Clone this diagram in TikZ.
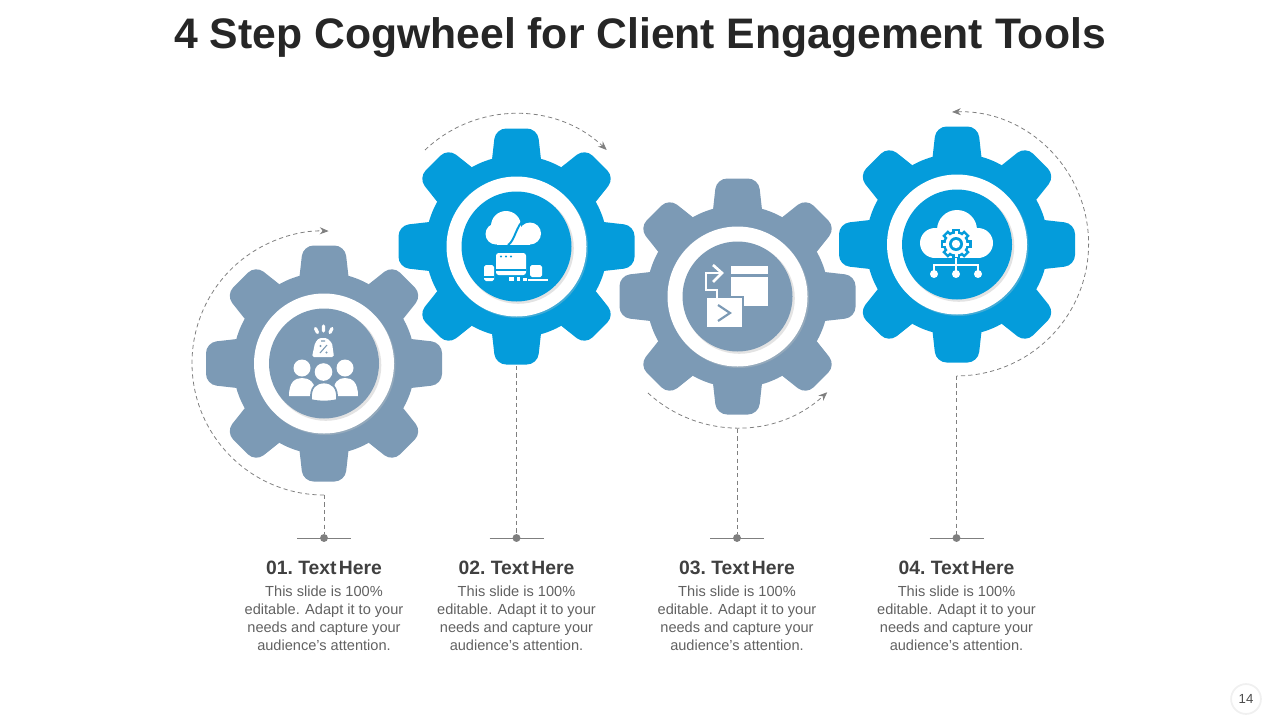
\documentclass[tikz,border=0pt]{standalone}
\usetikzlibrary{arrows.meta}
\usepackage{fontspec}
\setmainfont{Liberation Sans}
\definecolor{slategear}{HTML}{7C9AB5}
\definecolor{bluegear}{HTML}{049CDB}
\definecolor{dashgray}{HTML}{7F7F7F}
\tikzset{
  cogwheel/.pic={
    \foreach \a in {0,45,...,315}
      \fill[#1,rounded corners=6pt,rotate=\a] (-25.5,-78) -- (-21,-118) -- (21,-118) -- (25.5,-78) -- cycle;
    \fill[#1] (0,0) circle (91);
    \fill[black!20,opacity=0.3] (1.5,1.5) circle (70);
    \fill[white] (0,0) circle (70);
    \fill[black!11] (1.8,1.8) circle (55.5);
    \fill[#1] (0,0) circle (55);
  },
  guideline/.style={dashgray,dash pattern=on 2.4pt off 1.8pt,line width=0.45pt},
  bowline/.style={guideline,-{Stealth[length=5pt,width=4pt]}},
  footline/.style={dashgray,line width=0.5pt},
  baseknob/.style={circle,fill=dashgray,inner sep=0pt,minimum size=4.5pt},
  headlabel/.style={text=black!75,font=\fontsize{11}{13}\selectfont\bfseries},
  bodylabel/.style={text=black!62,align=center,font=\fontsize{8.3}{10.1}\selectfont},
}
\begin{document}
\begin{tikzpicture}[x=0.02cm,y=-0.02cm]
  \useasboundingbox (0,0) rectangle (1280,720);
  \node[text=black!85,font=\fontsize{24.3}{29}\selectfont\bfseries] (title) at (640,38)
    {4 Step Cogwheel for Client Engagement Tools};

  \pic at (324,363.5) {cogwheel=slategear};
  \pic at (516.5,246.5) {cogwheel=bluegear};
  \pic at (737.5,296.5) {cogwheel=slategear};
  \pic at (957,244.5) {cogwheel=bluegear};

  \foreach \n/\x/\lab in {A/324/01,B/516.5/02,C/737/03,D/956.5/04}
  {
    \node[baseknob] (knob\n) at (\x,538) {};
    \coordinate (left\n) at (\x-27,538);
    \coordinate (right\n) at (\x+27,538);
    \draw[footline] (left\n) -- (right\n);
    \node[headlabel] (head\n) at (\x,568) {\lab.\ Text\hspace{0.12em}Here};
    \node[bodylabel,anchor=north] (body\n) at (\x,580)
      {This slide is 100\%\\editable. Adapt it to your\\needs and capture your\\audience's attention.};
  }

  \coordinate (bowA) at (324,495);
  \coordinate (bowB) at (516.5,366);
  \coordinate (bowC) at (737,429);
  \coordinate (bowD) at (956.5,376);
  \foreach \n in {A,B,C,D}
    \draw[guideline] (bow\n) -- (knob\n);

  \draw[bowline] (bowA) arc[start angle=90,end angle=272,radius=132];
  \draw[bowline] (425,150) arc[start angle=226.5,end angle=313.5,radius=132];
  \draw[bowline] (648,393) arc[start angle=132.5,end angle=47,radius=132];
  \draw[guideline,{Stealth[length=5pt,width=4pt]}-] (952,112) arc[start angle=-92,end angle=90,radius=132];

  % sale icon
  \fill[white,rounded corners=1pt] (312,357) -- (315,343) -- (319,338) -- (327,338) -- (332,343) -- (334,357) -- cycle;
  \draw[slategear,line width=0.6pt] (320,353) -- (327,345) (321,341) -- (325,341);
  \fill[slategear] (320.5,346) circle (1.2);
  \fill[slategear] (326.5,352.5) circle (1.2);
  \draw[white,line width=1.8pt,line cap=round] (315.5,328.5) -- (317.5,332.5) (323.5,326) -- (323.5,331) (332,328.5) -- (330,332.5);
  \fill[white] (302,368) circle (8.5);
  \fill[white] (345,368) circle (8.5);
  \fill[white] (289,396) .. controls (289,382) and (295,378) .. (302,378) .. controls (309,378) and (316,382) .. (316,396) -- cycle;
  \fill[white] (333,396) .. controls (333,382) and (338,378) .. (345,378) .. controls (352,378) and (358,382) .. (358,396) -- cycle;
  \filldraw[white,draw=slategear,line width=1pt] (311,400) .. controls (310,387) and (316,382.5) .. (324,382.5) .. controls (332,382.5) and (338,387) .. (337,400) .. controls (330,402) and (318,402) .. (311,400) -- cycle;
  \fill[white] (323.5,372) circle (8.8);

  % cloud and devices icon
  \foreach \p/\r in {(506,226)/15,(496,234)/10.5,(530,233.5)/11}
    \fill[white] \p circle (\r);
  \fill[white] (497,232) rectangle (530,244.5);
  \draw[bluegear,line width=1.1pt] (508,245) .. controls (515,241) and (516,225) .. (525,219);
  \fill[white,rounded corners=1.5pt] (496,253) rectangle (526,275);
  \fill[bluegear] (501,256.5) circle (1.1);
  \fill[bluegear] (506,256.5) circle (1.1);
  \fill[bluegear] (511,256.5) circle (1.1);
  \draw[bluegear,line width=0.6pt] (496,270) -- (526,270);
  \fill[white,rounded corners=1pt] (484,265) rectangle (494,281);
  \fill[white,rounded corners=1pt] (530,265) rectangle (542,277);
  \fill[white] (528,279) rectangle (548,280.5);
  \fill[white] (509,277) rectangle (514,281);
  \fill[white] (517,277) rectangle (520,281);
  \fill[white] (523,278) rectangle (527,281);
  \draw[bluegear,line width=0.6pt] (484,277) -- (494,277);

  % window icon
  \fill[white] (731,266) rectangle (768,306);
  \fill[slategear] (731,273.5) rectangle (768,277);
  \fill[slategear] (705,296) rectangle (744,329);
  \fill[white] (707,298) rectangle (742,327);
  \draw[slategear,line width=1.2pt] (718,305) -- (730,313) -- (718,321);
  \draw[white,line width=1.5pt] (717,298) -- (717,290) -- (706,290) -- (706,273) -- (722,273);
  \draw[white,line width=1.5pt] (713,265) -- (722,273) -- (713,282);

  % cloud and cog icon
  \foreach \p/\r in {(957,230)/20,(935,243)/15,(978,243)/15}
    \fill[white] \p circle (\r);
  \fill[white] (935,235) rectangle (978,258);
  \foreach \a in {0,45,...,315}
    \fill[bluegear,rotate around={\a:(956,244)}] (952,228.5) rectangle (960,235);
  \fill[bluegear] (956,244) circle (13);
  \foreach \a in {0,45,...,315}
    \fill[white,rotate around={\a:(956,244)}] (954.5,231) rectangle (957.5,236);
  \fill[white] (956,244) circle (10.5);
  \fill[bluegear] (956,244) circle (7);
  \fill[white] (956,244) circle (4.2);
  \draw[white,line width=0.9pt] (956,258) -- (956,272) (934,272) -- (934,265) -- (978,265) -- (978,272);
  \fill[white] (934,274) circle (4);
  \fill[white] (956,274) circle (4);
  \fill[white] (978,274) circle (4);

  \node[circle,draw=black!6,line width=1pt,minimum size=17pt,inner sep=0pt,text=black!70,font=\fontsize{7.5}{9}\selectfont] (pagenum) at (1246,699) {14};
\end{tikzpicture}
\end{document}
